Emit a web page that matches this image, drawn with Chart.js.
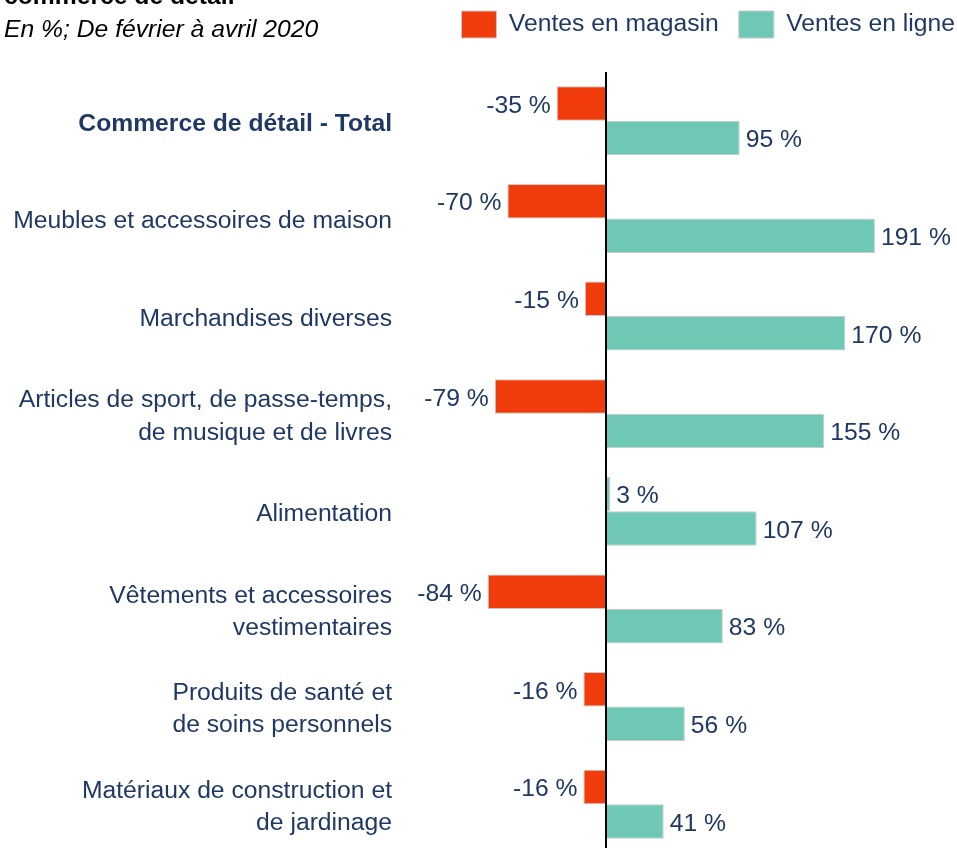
<!DOCTYPE html>
<html lang="fr">
<head>
<meta charset="utf-8">
<title>Ventes en magasin et en ligne</title>
<script src="https://cdn.jsdelivr.net/npm/chart.js@4"></script>
<style>
  html, body {
    margin: 0;
    padding: 0;
    background: #fff;
    overflow: hidden;
    width: 957px;
    height: 848px;
  }
  .title {
    position: absolute;
    left: 4px;
    top: -18px;
    font: bold 24.7px "Liberation Sans", Arial, sans-serif;
    line-height: 28px;
    color: #000;
    white-space: nowrap;
  }
  .subtitle {
    position: absolute;
    left: 4px;
    top: 15px;
    font: italic 24.7px "Liberation Sans", Arial, sans-serif;
    line-height: 28px;
    color: #000;
    white-space: nowrap;
  }
  .chart-wrap {
    position: absolute;
    left: 0;
    top: -9px;
    width: 975px;
    height: 862px;
  }
</style>
</head>
<body>
<div class="chart-wrap"><canvas id="chart"></canvas></div>
<div class="title">commerce de détail</div>
<div class="subtitle">En %; De février à avril 2020</div>
<script>
const categories = [
  'Commerce de détail - Total',
  'Meubles et accessoires de maison',
  'Marchandises diverses',
  ['Articles de sport, de passe-temps,', 'de musique et de livres'],
  'Alimentation',
  ['Vêtements et accessoires', 'vestimentaires'],
  ['Produits de santé et', 'de soins personnels'],
  ['Matériaux de construction et', 'de jardinage']
];
const seriesNames = ['Ventes en magasin', 'Ventes en ligne'];
const storeSales = [-35, -70, -15, -79, 3, -84, -16, -16];
const onlineSales = [95, 191, 170, 155, 107, 83, 56, 41];

const RED = '#f03c0a';
const TEAL = '#6fc8b5';
const NAVY = '#1f3864';
const FONT = '"Liberation Sans", Arial, sans-serif';
const SIZE = 24.7;

// étiquettes de valeur au bout des barres
const valueLabels = {
  id: 'valueLabels',
  afterDatasetsDraw(chart) {
    const { ctx } = chart;
    ctx.save();
    ctx.font = `${SIZE}px ${FONT}`;
    ctx.fillStyle = NAVY;
    ctx.textBaseline = 'middle';
    chart.data.datasets.forEach((ds, di) => {
      const meta = chart.getDatasetMeta(di);
      meta.data.forEach((bar, i) => {
        const v = ds.data[i];
        const neg = v < 0;
        ctx.textAlign = neg ? 'right' : 'left';
        ctx.fillText(`${v} %`, bar.x + (neg ? -6 : 6), bar.y + 2.5);
      });
    });
    ctx.restore();
  }
};

new Chart(document.getElementById('chart'), {
  type: 'bar',
  data: {
    labels: categories,
    datasets: [
      {
        label: seriesNames[0],
        data: storeSales,
        backgroundColor: (c) => (typeof c.raw === 'number' && c.raw >= 0 ? TEAL : RED),
        borderColor: '#c9c9c9',
        borderWidth: 1
      },
      {
        label: seriesNames[1],
        data: onlineSales,
        backgroundColor: TEAL,
        borderColor: '#c9c9c9',
        borderWidth: 1
      }
    ]
  },
  options: {
    indexAxis: 'y',
    responsive: true,
    maintainAspectRatio: false,
    animation: false,
    categoryPercentage: 0.707,
    barPercentage: 1,
    layout: { padding: 0 },
    plugins: {
      legend: {
        position: 'top',
        align: 'end',
        labels: {
          boxWidth: 35,
          boxHeight: 27,
          padding: 20,
          color: NAVY,
          font: { size: SIZE, family: FONT }
        }
      },
      tooltip: { enabled: false }
    },
    scales: {
      x: {
        position: 'top',
        min: -146.3,
        max: 262.1,
        z: 1,
        afterBuildTicks: (scale) => { scale.ticks = [{ value: 0 }]; },
        ticks: { display: false },
        border: { display: false },
        grid: {
          color: '#000',
          lineWidth: 2,
          drawTicks: true,
          tickLength: 24,
          tickColor: 'rgba(0,0,0,0)'
        }
      },
      y: {
        afterFit: (scale) => {
          scale.width = 400;
          scale.paddingTop = 0;
          scale.paddingBottom = 0;
        },
        border: { display: false },
        grid: { display: false, drawTicks: false },
        ticks: {
          autoSkip: false,
          padding: 8,
          labelOffset: 3,
          color: NAVY,
          font: (c) => ({
            size: SIZE,
            family: FONT,
            lineHeight: 1.3,
            weight: c.index === 0 ? 'bold' : 'normal'
          })
        }
      }
    }
  },
  plugins: [valueLabels]
});
</script>
</body>
</html>
